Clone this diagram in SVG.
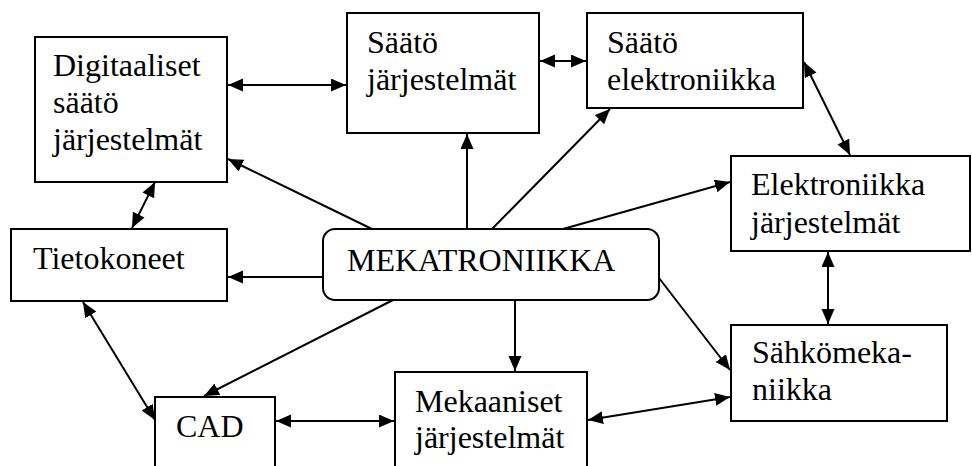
<svg xmlns="http://www.w3.org/2000/svg" width="972" height="466" viewBox="0 0 972 466">
<style>
.box{fill:#fff;stroke:#000;stroke-width:2}
.t{font-size:32px;fill:#000}
.c line{stroke:#000;stroke-width:2}
.one{marker-end:url(#ah)}
.two{marker-start:url(#ah);marker-end:url(#ah)}
</style>
<defs>
<marker id="ah" markerUnits="userSpaceOnUse" markerWidth="16" markerHeight="14" refX="15" refY="6.5" orient="auto-start-reverse">
<path d="M0,0 L15,6.5 L0,13 z" fill="#000"/>
</marker>
</defs>
<rect width="972" height="466" fill="#fff"/>
<g font-family="Liberation Serif, Times New Roman, serif">
<g id="digitaaliset">
<rect class="box" x="35" y="37" width="192" height="145"/>
<text class="t" x="53" y="76">Digitaaliset</text>
<text class="t" x="53" y="113">säätö</text>
<text class="t" x="53" y="150">järjestelmät</text>
</g>
<g id="saato-jarjestelmat">
<rect class="box" x="347" y="13" width="192" height="120"/>
<text class="t" x="367" y="53">Säätö</text>
<text class="t" x="367" y="90">järjestelmät</text>
</g>
<g id="saato-elektroniikka">
<rect class="box" x="587" y="13" width="216" height="95"/>
<text class="t" x="607" y="53">Säätö</text>
<text class="t" x="607" y="90">elektroniikka</text>
</g>
<g id="elektroniikka-jarjestelmat">
<rect class="box" x="731" y="156" width="239" height="95"/>
<text class="t" x="751" y="195">Elektroniikka</text>
<text class="t" x="751" y="233">järjestelmät</text>
</g>
<g id="tietokoneet">
<rect class="box" x="11" y="229" width="216" height="72"/>
<text class="t" x="33" y="269">Tietokoneet</text>
</g>
<g id="mekatroniikka">
<rect class="box" x="323" y="229" width="336" height="71" rx="12" ry="12"/>
<text class="t" x="347" y="271">MEKATRONIIKKA</text>
</g>
<g id="sahkomekaniikka">
<rect class="box" x="731" y="325" width="216" height="96"/>
<text class="t" x="752" y="363">Sähkömeka-</text>
<text class="t" x="752" y="400">niikka</text>
</g>
<g id="cad">
<rect class="box" x="155" y="397" width="120" height="90"/>
<text class="t" x="176" y="437">CAD</text>
</g>
<g id="mekaaniset">
<rect class="box" x="395" y="372" width="192" height="115"/>
<text class="t" x="415" y="412">Mekaaniset</text>
<text class="t" x="415" y="448">järjestelmät</text>
</g>
</g>
<g id="connectors" class="c">
<line class="two" x1="228" y1="85" x2="346" y2="85"/>
<line class="two" x1="540" y1="61" x2="586" y2="61"/>
<line class="two" x1="804" y1="62" x2="850" y2="155"/>
<line class="two" x1="828" y1="252" x2="828" y2="324"/>
<line class="two" x1="155" y1="182" x2="132" y2="228"/>
<line class="two" x1="83" y1="302" x2="155" y2="420"/>
<line class="two" x1="276" y1="421" x2="394" y2="421"/>
<line class="two" x1="588" y1="420" x2="730" y2="397"/>
<line class="one" x1="372" y1="229" x2="228" y2="159"/>
<line class="one" x1="467" y1="229" x2="467" y2="134"/>
<line class="one" x1="492" y1="229" x2="610" y2="109"/>
<line class="one" x1="563" y1="229" x2="730" y2="182"/>
<line class="one" x1="323" y1="277" x2="228" y2="277"/>
<line class="one" x1="393" y1="300" x2="204" y2="396"/>
<line class="one" x1="515" y1="300" x2="515" y2="371"/>
<line class="one" x1="659" y1="278" x2="730" y2="370"/>
</g>
</svg>
